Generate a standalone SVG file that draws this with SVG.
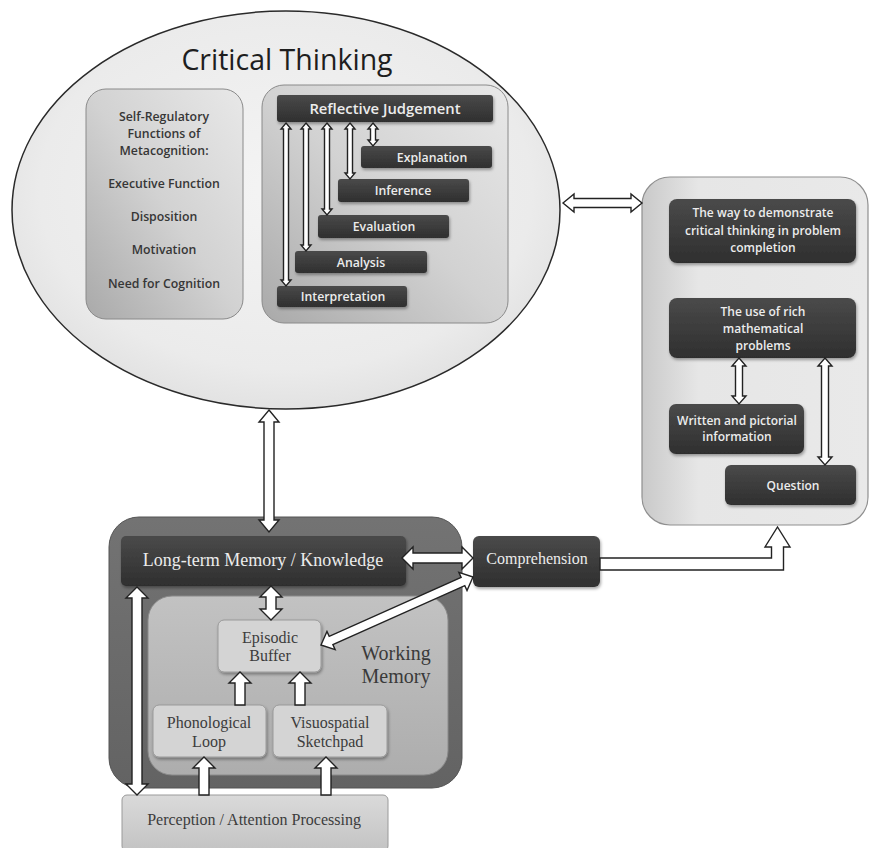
<svg xmlns="http://www.w3.org/2000/svg" width="874" height="848" viewBox="0 0 874 848">
  <defs>
    <radialGradient id="gEllipse" cx="0.5" cy="0.45" r="0.6">
      <stop offset="0" stop-color="#f4f4f4"/>
      <stop offset="0.75" stop-color="#ebebeb"/>
      <stop offset="1" stop-color="#dedede"/>
    </radialGradient>
    <linearGradient id="gPanel" x1="1" y1="0" x2="0" y2="1">
      <stop offset="0" stop-color="#e8e8e8"/>
      <stop offset="0.5" stop-color="#d2d2d2"/>
      <stop offset="1" stop-color="#a9a9a9"/>
    </linearGradient>
    <linearGradient id="gDark" x1="0" y1="0" x2="0" y2="1">
      <stop offset="0" stop-color="#4a4a4a"/>
      <stop offset="1" stop-color="#2f2f2f"/>
    </linearGradient>
    <linearGradient id="gSide" x1="0" y1="0" x2="1" y2="0">
      <stop offset="0" stop-color="#c9c9c9"/>
      <stop offset="0.25" stop-color="#e6e6e6"/>
      <stop offset="1" stop-color="#e9e9e9"/>
    </linearGradient>
    <linearGradient id="gOuter" x1="0" y1="0" x2="0" y2="1">
      <stop offset="0" stop-color="#737373"/>
      <stop offset="1" stop-color="#636363"/>
    </linearGradient>
    <linearGradient id="gInner" x1="0" y1="0" x2="0" y2="1">
      <stop offset="0" stop-color="#c2c2c2"/>
      <stop offset="1" stop-color="#adadad"/>
    </linearGradient>
    <linearGradient id="gLight" x1="0" y1="0" x2="0" y2="1">
      <stop offset="0" stop-color="#dadada"/>
      <stop offset="1" stop-color="#c3c3c3"/>
    </linearGradient>
    <filter id="shadow" x="-10%" y="-10%" width="125%" height="140%">
      <feDropShadow dx="1" dy="2" stdDeviation="1.5" flood-color="#000" flood-opacity="0.35"/>
    </filter>
  </defs>
  <style>
    .sans { font-family: "Open Sans", "Liberation Sans", Arial, sans-serif; }
    .serif { font-family: "Liberation Serif", "Times New Roman", serif; }
    .dark { fill: url(#gDark); filter: url(#shadow); }
    .lt { fill: #ececec; font-weight: 600; text-anchor: middle; }
    .meta { fill: #363636; font-weight: 600; font-size: 12.3px; text-anchor: middle; }
    .small { font-size: 12.3px; }
    .wm { fill: #d4d4d4; stroke: #9a9a9a; stroke-width: 1; filter: url(#shadow); }
    .wmt { fill: #3c3c3c; font-size: 16px; text-anchor: middle; }
    .arr { fill: #ffffff; stroke: #222; stroke-width: 1.4; stroke-linejoin: miter; }
  </style>

  <rect width="874" height="848" fill="#ffffff"/>

  <!-- Critical thinking ellipse -->
  <g id="critical-thinking">
    <ellipse cx="286" cy="210" rx="274" ry="199" fill="url(#gEllipse)" stroke="#2a2a2a" stroke-width="1.5"/>
    <text class="sans" x="287" y="70" font-size="28.5" font-weight="500" fill="#1e1e1e" text-anchor="middle">Critical Thinking</text>
  </g>

  <!-- Metacognition panel -->
  <g id="metacognition">
    <rect x="86" y="89" width="157" height="230" rx="20" fill="url(#gPanel)" stroke="#8a8a8a" stroke-width="1"/>
    <text class="sans meta" x="164" y="121">Self-Regulatory</text>
    <text class="sans meta" x="164" y="138">Functions of</text>
    <text class="sans meta" x="164" y="155">Metacognition:</text>
    <text class="sans meta" x="164" y="188">Executive Function</text>
    <text class="sans meta" x="164" y="221">Disposition</text>
    <text class="sans meta" x="164" y="254">Motivation</text>
    <text class="sans meta" x="164" y="288">Need for Cognition</text>
  </g>

  <!-- Reflective judgement panel -->
  <g id="reflective-panel">
    <rect x="262" y="85" width="246" height="238" rx="22" fill="url(#gPanel)" stroke="#8a8a8a" stroke-width="1"/>
  </g>
  <g id="reflective-judgement">
    <rect class="dark" x="277" y="95" width="216" height="27" rx="3"/>
    <text class="sans lt" x="385" y="113.5" font-size="14.8">Reflective Judgement</text>
  </g>
  <g id="explanation">
    <rect class="dark" x="361" y="146" width="131" height="22" rx="3"/>
    <text class="sans lt small" x="432" y="161.5">Explanation</text>
  </g>
  <g id="inference">
    <rect class="dark" x="338" y="179" width="131" height="23" rx="3"/>
    <text class="sans lt small" x="403" y="195">Inference</text>
  </g>
  <g id="evaluation">
    <rect class="dark" x="318" y="215" width="131" height="23" rx="3"/>
    <text class="sans lt small" x="384" y="230.5">Evaluation</text>
  </g>
  <g id="analysis">
    <rect class="dark" x="295" y="251" width="132" height="22" rx="3"/>
    <text class="sans lt small" x="361" y="266.5">Analysis</text>
  </g>
  <g id="interpretation">
    <rect class="dark" x="277" y="286" width="130" height="21" rx="3"/>
    <text class="sans lt small" x="343" y="301">Interpretation</text>
  </g>

  <!-- Problem solving panel -->
  <g id="problem-panel">
    <rect x="642" y="177" width="226" height="348" rx="28" fill="url(#gSide)" stroke="#8f8f8f" stroke-width="1.2"/>
  </g>
  <g id="demonstrate">
    <rect class="dark" x="669" y="199" width="187" height="64" rx="8"/>
    <text class="sans lt" font-size="12" x="763" y="217">The way to demonstrate</text>
    <text class="sans lt" font-size="12" x="763" y="235">critical thinking in problem</text>
    <text class="sans lt" font-size="12" x="763" y="252">completion</text>
  </g>
  <g id="rich-problems">
    <rect class="dark" x="669" y="298" width="187" height="60" rx="8"/>
    <text class="sans lt" font-size="12" x="763" y="316">The use of rich</text>
    <text class="sans lt" font-size="12" x="763" y="333">mathematical</text>
    <text class="sans lt" font-size="12" x="763" y="350">problems</text>
  </g>
  <g id="written-pictorial">
    <rect class="dark" x="669" y="404" width="135" height="50" rx="7"/>
    <text class="sans lt" font-size="12" x="737" y="425">Written and pictorial</text>
    <text class="sans lt" font-size="12" x="737" y="441">information</text>
  </g>
  <g id="question">
    <rect class="dark" x="725" y="465" width="131" height="40" rx="6"/>
    <text class="sans lt" font-size="12" x="793" y="489.5">Question</text>
  </g>

  <!-- Working memory model -->
  <g id="memory-system">
    <rect x="109" y="517" width="353" height="271" rx="30" fill="url(#gOuter)" stroke="#555" stroke-width="1"/>
  </g>
  <g id="long-term-memory">
    <rect class="dark" x="121" y="536" width="285" height="50" rx="5"/>
    <text class="serif" x="263" y="566" font-size="18" fill="#ececec" text-anchor="middle">Long-term Memory / Knowledge</text>
  </g>
  <g id="working-memory">
    <rect x="148" y="596" width="300" height="179" rx="24" fill="url(#gInner)" stroke="#8a8a8a" stroke-width="1"/>
    <text class="serif" x="396" y="660" font-size="20" fill="#3a3a3a" text-anchor="middle">Working</text>
    <text class="serif" x="396" y="683" font-size="20" fill="#3a3a3a" text-anchor="middle">Memory</text>
  </g>
  <g id="episodic-buffer">
    <rect class="wm" x="218" y="620" width="103" height="52" rx="6"/>
    <text class="serif wmt" x="270" y="643" font-size="15.5" fill="#555">Episodic</text>
    <text class="serif wmt" x="270" y="661" font-size="15.5" fill="#555">Buffer</text>
  </g>
  <g id="phonological-loop">
    <rect class="wm" x="153" y="705" width="113" height="52" rx="6"/>
    <text class="serif wmt" x="209" y="728">Phonological</text>
    <text class="serif wmt" x="209" y="747">Loop</text>
  </g>
  <g id="visuospatial-sketchpad">
    <rect class="wm" x="273" y="705" width="114" height="52" rx="6"/>
    <text class="serif wmt" x="330" y="728">Visuospatial</text>
    <text class="serif wmt" x="330" y="747">Sketchpad</text>
  </g>
  <g id="perception">
    <rect x="122" y="795" width="266" height="56" rx="5" fill="url(#gLight)" stroke="#9a9a9a" stroke-width="1"/>
    <text class="serif wmt" x="254" y="825">Perception / Attention Processing</text>
  </g>
  <g id="comprehension">
    <rect class="dark" x="473" y="536" width="127" height="51" rx="6"/>
    <text class="serif" x="537" y="564" font-size="16" fill="#ececec" text-anchor="middle">Comprehension</text>
  </g>

  <!-- Connectors -->
  <g id="connectors">
    <!-- reflective judgement to its five skills -->
    <polygon class="arr" points="286,123 291,129 288.5,129 288.5,280 291,280 286,286 281,280 283.5,280 283.5,129 281,129"/>
    <polygon class="arr" points="306,123 311,129 308.5,129 308.5,245 311,245 306,251 301,245 303.5,245 303.5,129 301,129"/>
    <polygon class="arr" points="327,123 332,129 329.5,129 329.5,209 332,209 327,215 322,209 324.5,209 324.5,129 322,129"/>
    <polygon class="arr" points="350,123 355,129 352.5,129 352.5,173 355,173 350,179 345,173 347.5,173 347.5,129 345,129"/>
    <polygon class="arr" points="373,123 378,129 375.5,129 375.5,140 378,140 373,146 368,140 370.5,140 370.5,129 368,129"/>

    <!-- ellipse to problem panel -->
    <polygon class="arr" points="563,203 574,194 574,198.5 631,198.5 631,194 642,203 631,212 631,207.5 574,207.5 574,212"/>

    <!-- ellipse to long-term memory -->
    <polygon class="arr" points="269,410 279,422 274,422 274,520 279,520 269,532 259,520 264,520 264,422 259,422"/>

    <!-- inside problem panel -->
    <polygon class="arr" points="739,358 746,366 742.5,366 742.5,396 746,396 739,404 732,396 735.5,396 735.5,366 732,366"/>
    <polygon class="arr" points="825,358 832,366 828.5,366 828.5,457 832,457 825,465 818,457 821.5,457 821.5,366 818,366"/>

    <!-- long-term memory to comprehension -->
    <polygon class="arr" points="402,558 413,547 413,553 462,553 462,547 473,558 462,569 462,563 413,563 413,569"/>
    <!-- long-term memory to episodic buffer -->
    <polygon class="arr" points="271,586 282,597 276,597 276,609 282,609 271,620 260,609 266,609 266,597 260,597"/>
    <!-- perception to long-term memory -->
    <polygon class="arr" points="137,587 148,598 142,598 142,784 148,784 137,795 126,784 132,784 132,598 126,598"/>
    <!-- comprehension to episodic buffer -->
    <polygon class="arr" transform="translate(321,645) rotate(-24.1)" points="0,0 11,-10 11,-4.5 155.5,-4.5 155.5,-10 166.5,0 155.5,10 155.5,4.5 11,4.5 11,10"/>

    <!-- slave systems to episodic buffer -->
    <polygon class="arr" points="240,672 251,683 245,683 245,705 235,705 235,683 229,683"/>
    <polygon class="arr" points="300,672 311,683 305,683 305,705 295,705 295,683 289,683"/>
    <!-- perception to slave systems -->
    <polygon class="arr" points="204,757 215,768 209,768 209,795 199,795 199,768 193,768"/>
    <polygon class="arr" points="326,757 337,768 331,768 331,795 321,795 321,768 315,768"/>

    <!-- comprehension to problem panel -->
    <polygon class="arr" points="600,558 771.5,558 771.5,547 765,547 777.5,527 790,547 783.5,547 783.5,570 600,570"/>
  </g>
</svg>
